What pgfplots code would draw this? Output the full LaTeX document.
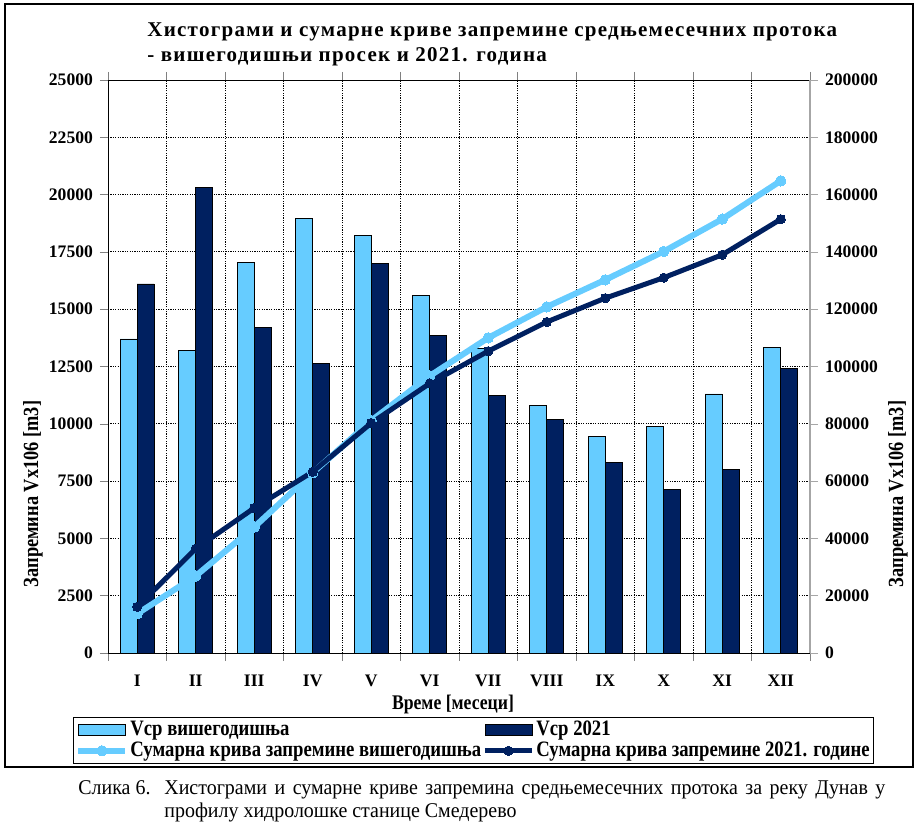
\documentclass[border=0pt]{standalone}
\usepackage{fontspec}
\setmainfont{Liberation Serif}
\newfontfamily\cond[FakeStretch=0.85]{Liberation Serif}
\newfontfamily\capfont[FakeStretch=0.95]{Liberation Serif}
\newfontfamily\titlefont[LetterSpace=6]{Liberation Serif}
\usepackage{pgfplots}
\pgfplotsset{compat=1.18}
\definecolor{lightb}{RGB}{102,204,255}
\definecolor{darkb}{RGB}{0,32,96}

\pgfplotsset{
  common/.style={
    scale only axis, width=351pt, height=286.5pt,
    at={(54pt,87.5pt)}, anchor=south west,
    xmin=0.5, xmax=12.5,
    tick align=outside,
    major tick length=4pt, minor tick length=4pt,
    /pgf/number format/fixed,
    /pgf/number format/assume math mode=true,
    /pgf/number format/1000 sep={},
    scaled y ticks=false,
    ticklabel style={font=\fontsize{8.8}{10}\selectfont\bfseries},
  },
  barleg/.style={legend image code/.code={%
    \draw[##1, line width=0.4pt] (0pt,-2.75pt) rectangle (23.5pt,2.75pt);}},
  lineleg/.style={legend image code/.code={%
    \draw[##1, mark repeat=2, mark phase=2]
      plot coordinates {(0pt,0pt) (11.75pt,0pt) (23.5pt,0pt)};}},
}

\begin{document}
\begin{tikzpicture}
\useasboundingbox (0,0) rectangle (461.5pt,414pt);
\draw[line width=0.75pt] (2.5pt,30.5pt) rectangle (456.5pt,412pt);

% histogrami
\begin{axis}[common,
  ymin=0, ymax=25000, ytick distance=2500,
  axis x line*=box, axis y line*=left,
  xtick={1,...,12},
  xticklabels={I,II,III,IV,V,VI,VII,VIII,IX,X,XI,XII},
  xticklabel style={yshift=-3.5pt},
  minor xtick={0.5,1.5,...,12.5},
  major x tick style={draw=none},
  xminorgrids=true, ymajorgrids=true,
  grid style={black, line width=0.4pt, dash pattern=on 0.6pt off 0.6pt},
  minor grid style={black, line width=0.4pt, dash pattern=on 0.6pt off 0.6pt},
]
\addplot[ybar, bar width=8.5pt, bar shift=-4.25pt, fill=lightb, draw=black, line width=0.4pt]
  coordinates {(1,13700) (2,13200) (3,17050) (4,18950) (5,18200) (6,15600)
               (7,13300) (8,10800) (9,9450) (10,9900) (11,11300) (12,13350)};
\addplot[ybar, bar width=8.5pt, bar shift=4.25pt, fill=darkb, draw=black, line width=0.4pt]
  coordinates {(1,16100) (2,20300) (3,14200) (4,12650) (5,17000) (6,13850)
               (7,11250) (8,10200) (9,8300) (10,7150) (11,8000) (12,12400)};
\end{axis}

% sumarne krive
\begin{axis}[common,
  ymin=0, ymax=200000, ytick distance=20000,
  axis x line=none, axis y line*=right,
  y axis line style={gray!70, line width=0.6pt},
  ytick style={gray!70},
  legend columns=2,
  legend cell align=left,
  legend style={at={(0.5207,-0.1527)}, anchor=center, draw=black, line width=0.5pt,
    inner xsep=1pt, inner ysep=0pt, row sep=-2.5pt,
    nodes={inner xsep=1pt},
    font=\fontsize{11}{12}\selectfont\cond\bfseries},
]
\addlegendimage{barleg, fill=lightb, draw=black}
\addlegendentry{\makebox[175pt][l]{Vср вишегодишња}}
\addlegendimage{barleg, fill=darkb, draw=black}
\addlegendentry{Vср 2021}
\addplot[lineleg, lightb, line width=3pt, mark=*, mark size=2.6pt,
  mark options={fill=lightb, draw=lightb, line width=0pt}]
  coordinates {(1,13700) (2,26900) (3,43950) (4,62900) (5,81100) (6,96700)
               (7,110000) (8,120800) (9,130250) (10,140150) (11,151450) (12,164800)};
\addlegendentry{\makebox[175pt][l]{Сумарна крива запремине вишегодишња}}
\addplot[lineleg, darkb, line width=2.5pt, mark=*, mark size=2.3pt,
  mark options={fill=darkb, draw=darkb, line width=0pt}]
  coordinates {(1,16100) (2,36400) (3,50600) (4,63250) (5,80250) (6,94100)
               (7,105350) (8,115550) (9,123850) (10,131000) (11,139000) (12,151400)};
\addlegendentry{Сумарна крива запремине 2021. године}
\end{axis}

% naslov i oznake osa
\node[anchor=base west, inner sep=0pt, font=\fontsize{10.5}{12}\selectfont\titlefont\bfseries]
  at (73.5pt,395.5pt) {Хистограми и сумарне криве запремине средњемесечних протока};
\node[anchor=base west, inner sep=0pt, font=\fontsize{10.5}{12}\selectfont\titlefont\bfseries]
  at (73.5pt,383pt) {- вишегодишњи просек и 2021. година};
\node[rotate=90, inner sep=0pt, font=\fontsize{10.8}{12}\selectfont\cond\bfseries]
  at (16.5pt,167pt) {Запремина Vx106 [m3]};
\node[rotate=90, inner sep=0pt, font=\fontsize{10.8}{12}\selectfont\cond\bfseries]
  at (449pt,167pt) {Запремина Vx106 [m3]};
\node[inner sep=0pt, font=\fontsize{10.4}{12}\selectfont\cond\bfseries]
  at (226.5pt,61.5pt) {Време [месеци]};

% potpis slike
\node[anchor=base west, inner sep=0pt, font=\fontsize{10.5}{12}\selectfont\capfont]
  at (39pt,16.5pt) {Слика 6.};
\node[anchor=base west, inner sep=0pt, font=\fontsize{10.5}{12}\selectfont\capfont]
  at (82pt,16.5pt) {\makebox[360.5pt][s]{Хистограми и сумарне криве запремина средњемесечних протока за реку Дунав у}};
\node[anchor=base west, inner sep=0pt, font=\fontsize{10.5}{12}\selectfont\capfont]
  at (82pt,5pt) {профилу хидролошке станице Смедерево};
\end{tikzpicture}
\end{document}
